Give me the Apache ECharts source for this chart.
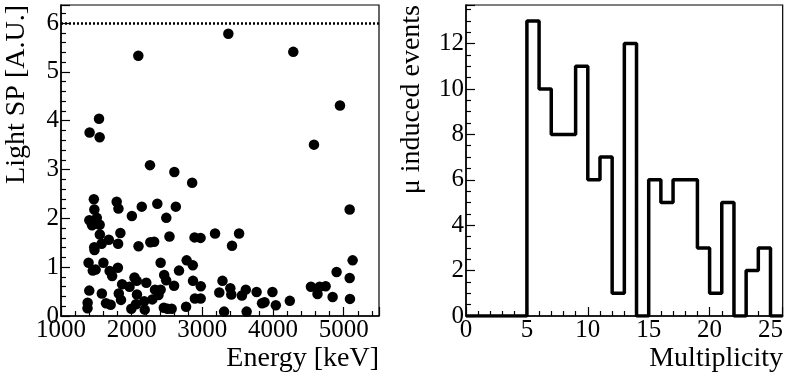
<!DOCTYPE html>
<html>
<head>
<meta charset="utf-8">
<script src="https://cdn.jsdelivr.net/npm/echarts@6/dist/echarts.min.js"></script>
<style>
  html, body { margin: 0; padding: 0; background: #fff; }
  #main { width: 786px; height: 381px; }
</style>
</head>
<body>
<div id="main"></div>
<script>
// left panel: energy [keV] vs light SP [A.U.]
var energy = [
    2094, 3368, 4287, 4948, 4580, 1405, 1538, 1547, 2259, 2604, 2856,
    1465, 1472, 1788, 1813, 2143, 2363, 2003, 2625, 2490, 5085,
    1401, 1439, 1507, 1547, 1470,
    1550, 1840, 1677, 1575, 1808, 1470, 1474, 2097, 2264, 2318, 2535, 2890, 2975, 3180, 3420, 3520,
    1390, 1600, 1805, 1450, 1490, 1688, 1724, 2410, 2778, 2865, 2670, 5127, 4900,
    2040, 2072, 1970, 1865, 2207, 2460, 2488, 2600, 2868, 2978, 3285, 4537, 4660, 4745, 5085, 2330, 2410,
    1400, 1578, 1818, 2075, 2380, 3240, 3396, 3410, 3560, 3615, 3768, 3992, 4630, 4844,
    1849, 2178, 2292, 2895, 2976, 3845, 3880, 4040, 4238, 5089, 1377, 1637, 1703, 2061,
    1375, 1995, 2185, 2455, 2507, 2566, 2770, 3308, 3627
];
var lightSP = [
    5.33, 5.78, 5.41, 4.31, 3.51, 3.76, 4.04, 3.66, 3.09, 2.95, 2.73,
    2.39, 2.18, 2.34, 2.20, 2.24, 2.30, 2.05, 2.24, 2.01, 2.18,
    1.96, 1.86, 2.01, 1.87, 1.92,
    1.67, 1.70, 1.56, 1.48, 1.48, 1.41, 1.35, 1.43, 1.51, 1.52, 1.63, 1.61, 1.60, 1.69, 1.44, 1.69,
    1.09, 1.09, 0.99, 0.93, 0.95, 0.92, 0.82, 1.09, 1.14, 1.04, 0.93, 1.14, 0.90,
    0.79, 0.72, 0.60, 0.65, 0.68, 0.84, 0.73, 0.62, 0.72, 0.61, 0.72, 0.60, 0.60, 0.61, 0.78, 0.54, 0.54,
    0.52, 0.46, 0.46, 0.44, 0.43, 0.48, 0.57, 0.44, 0.42, 0.54, 0.49, 0.49, 0.45, 0.39,
    0.33, 0.30, 0.34, 0.36, 0.36, 0.26, 0.28, 0.22, 0.31, 0.35, 0.27, 0.26, 0.23, 0.24,
    0.16, 0.15, 0.13, 0.17, 0.15, 0.15, 0.19, 0.09, 0.09
];
var lightCut = 6;

// right panel: multiplicity histogram, unit bins starting at 0
var binStart = 0;
var counts = [0, 0, 0, 0, 0, 13, 10, 8, 8, 11, 6, 7, 1, 12, 0, 6, 5, 6, 6, 3, 1, 5, 0, 2, 3, 0];

function scatterData() {
    var out = [];
    for (var i = 0; i < energy.length; i++) {
        out.push([energy[i], lightSP[i]]);
    }
    return out;
}

function histData() {
    var out = [];
    for (var i = 0; i < counts.length; i++) {
        out.push([binStart + i, counts[i]]);
    }
    out.push([binStart + counts.length, counts[counts.length - 1]]);
    return out;
}

var font = 'Liberation Serif';
var black = '#000';

function valueAxis(gridIndex, min, max, interval, minorSplit) {
    return {
        type: 'value',
        gridIndex: gridIndex,
        min: min,
        max: max,
        interval: interval,
        axisLine: { show: true, onZero: false, lineStyle: { color: black, width: 1.5 } },
        axisTick: { show: true, inside: true, length: 9, lineStyle: { color: black, width: 1.2 } },
        minorTick: { show: true, splitNumber: minorSplit, length: 5, lineStyle: { color: black, width: 1.2 } },
        axisLabel: {
            color: black, fontFamily: font, fontSize: 25, margin: 2, showMaxLabel: false,
            formatter: function(v) { return String(v); } // no thousands separator
        },
        splitLine: { show: false }
    };
}

var chart = echarts.init(document.getElementById('main'));
var option = {
    backgroundColor: '#fff',
    animation: false,
    grid: [
        { left: 61, top: 5, width: 318, height: 311, show: true, borderColor: black, borderWidth: 1.2, backgroundColor: 'transparent' },
        { left: 466, top: 5, width: 317, height: 311, show: true, borderColor: black, borderWidth: 1.2, backgroundColor: 'transparent' }
    ],
    xAxis: [
        valueAxis(0, 1000, 5500, 1000, 5),
        valueAxis(1, 0, 26, 5, 5)
    ],
    yAxis: [
        valueAxis(0, 0, 6.37, 1, 5),
        valueAxis(1, 0, 13.7, 2, 4)
    ],
    graphic: [
        { type: 'text', right: 786 - 379, top: 345, style: { text: 'Energy [keV]', font: '28px "Liberation Serif"', fill: black } },
        { type: 'text', right: 3, top: 345, style: { text: 'Multiplicity', font: '28px "Liberation Serif"', fill: black } },
        { type: 'text', x: 17, y: 5, rotation: Math.PI / 2, style: { text: 'Light SP [A.U.]', font: '28px "Liberation Serif"', fill: black, align: 'right', verticalAlign: 'middle' } },
        { type: 'text', x: 412, y: 5, rotation: Math.PI / 2, style: { text: 'μ induced events', font: '28px "Liberation Serif"', fill: black, align: 'right', verticalAlign: 'middle' } }
    ],
    series: [
        {
            type: 'scatter',
            xAxisIndex: 0,
            yAxisIndex: 0,
            data: scatterData(),
            symbol: 'circle',
            symbolSize: 10.5,
            itemStyle: { color: black, opacity: 1 },
            markLine: {
                silent: true,
                symbol: 'none',
                label: { show: false },
                lineStyle: { color: black, type: [2, 2], width: 2.5 },
                data: [{ yAxis: lightCut }]
            }
        },
        {
            type: 'line',
            xAxisIndex: 1,
            yAxisIndex: 1,
            data: histData(),
            step: 'end',
            showSymbol: false,
            symbol: 'none',
            lineStyle: { color: black, width: 3.5 },
            clip: true
        }
    ]
};
chart.setOption(option);
</script>
</body>
</html>
